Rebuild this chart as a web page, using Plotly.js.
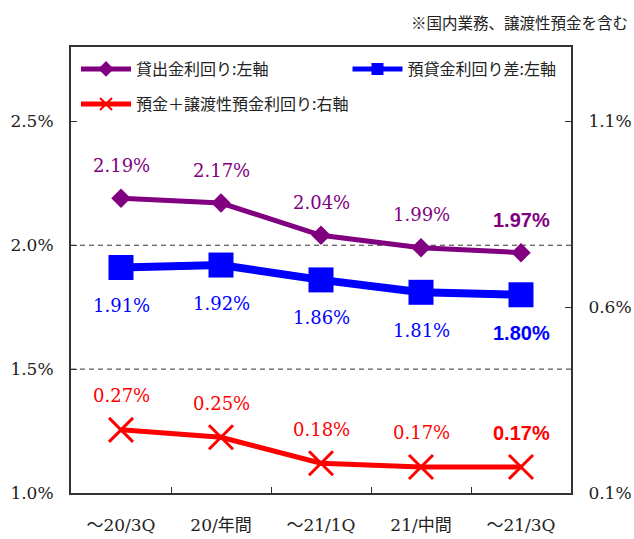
<!DOCTYPE html>
<html>
<head>
<meta charset="utf-8">
<script src="https://cdn.plot.ly/plotly-3.0.1.min.js"></script>
<style>
  html, body { margin: 0; padding: 0; background: #fff; }
  #chart { width: 634px; height: 539px; }
</style>
</head>
<body>
<div id="chart"></div>
<script>
// ---- data ----
const categories = ['～20/3Q', '20/年間', '～21/1Q', '21/中間', '～21/3Q'];
const loanYield = [2.19, 2.17, 2.04, 1.99, 1.97];      // 貸出金利回り (left axis)
const spread = [1.91, 1.92, 1.86, 1.81, 1.80];          // 預貸金利回り差 (left axis)
const depositYield = [0.27, 0.25, 0.18, 0.17, 0.17];    // 預金＋譲渡性預金利回り (right axis)
const seriesNames = ['貸出金利回り:左軸', '預貸金利回り差:左軸', '預金＋譲渡性預金利回り:右軸'];
const leftTicks = [1.0, 1.5, 2.0, 2.5];
const leftTickLabels = ['1.0%', '1.5%', '2.0%', '2.5%'];
const rightTicks = [0.1, 0.6, 1.1];
const rightTickLabels = ['0.1%', '0.6%', '1.1%'];
const gridLevels = [1.5, 2.0];
const note = '※国内業務、譲渡性預金を含む';

const PURPLE = '#800080', BLUE = '#0000ff', RED = '#ff0000';
const serif = 'DejaVu Serif, Noto Sans CJK JP, serif';
const cjk = 'Noto Sans CJK JP, sans-serif';

const traces = [
  {
    x: categories, y: loanYield, name: seriesNames[0], type: 'scatter', mode: 'lines+markers',
    line: { color: PURPLE, width: 5 },
    marker: { symbol: 'diamond', size: 15, color: PURPLE },
    yaxis: 'y', legend: 'legend'
  },
  {
    x: categories, y: spread, name: seriesNames[1], type: 'scatter', mode: 'lines+markers',
    line: { color: BLUE, width: 8 },
    marker: { symbol: 'square', size: 25, color: BLUE },
    yaxis: 'y', legend: 'legend3'
  },
  {
    x: categories, y: depositYield, name: seriesNames[2], type: 'scatter', mode: 'lines+markers',
    line: { color: RED, width: 5 },
    marker: { symbol: 'x-thin-open', size: 24, color: RED, line: { color: RED, width: 3 } },
    yaxis: 'y2', legend: 'legend2'
  }
];

function labels(values, yref, color, shift) {
  return values.map((v, i) => {
    const last = i === values.length - 1;
    return {
      x: categories[i], y: v, xref: 'x', yref: yref,
      text: v.toFixed(2) + '%', showarrow: false, yshift: shift,
      font: last ? { family: 'Liberation Sans, Arial, sans-serif', size: 20, color: color, weight: 'bold' }
                 : { family: serif, size: 18, color: color }
    };
  });
}

const annotations = []
  .concat(labels(loanYield, 'y', PURPLE, 33))
  .concat(labels(spread, 'y', BLUE, -38))
  .concat(labels(depositYield, 'y2', RED, 34))
  .concat([{
    x: 1.118, xref: 'paper', xanchor: 'right', y: 1, yref: 'paper', yanchor: 'middle', yshift: 25,
    text: note, showarrow: false, font: { family: cjk, size: 15.5, color: '#222' }
  }]);

const shapes = gridLevels.map(g => ({
  type: 'line', xref: 'paper', x0: 0, x1: 1, yref: 'y', y0: g, y1: g,
  line: { color: '#333', width: 1, dash: '5px,4px' }, layer: 'below'
}));

const legendBase = {
  orientation: 'h', xanchor: 'left', yanchor: 'middle', itemwidth: 50,
  bgcolor: 'rgba(255,255,255,0)', borderwidth: 0,
  font: { family: cjk, size: 16, color: '#222' }, itemsizing: 'constant'
};

const layout = {
  width: 634, height: 539,
  margin: { l: 71, r: 63, t: 47, b: 46 },
  paper_bgcolor: '#fff', plot_bgcolor: '#fff',
  font: { family: serif, size: 17, color: '#222' },
  xaxis: {
    type: 'category', range: [-0.5, 4.5], tickson: 'boundaries',
    ticks: 'inside', ticklen: 6, tickcolor: '#333', tickwidth: 1,
    showline: true, linecolor: '#333', linewidth: 2, mirror: true,
    showgrid: false, zeroline: false, fixedrange: true,
    ticklabelstandoff: 16,
    tickfont: { family: serif, size: 17, color: '#222' }
  },
  yaxis: {
    range: [1.0, 2.8], tickmode: 'array', tickvals: leftTicks, ticktext: leftTickLabels,
    ticks: 'inside', ticklen: 6, tickcolor: '#333',
    showline: true, linecolor: '#333', linewidth: 2,
    showgrid: false, zeroline: false, fixedrange: true,
    ticklabelstandoff: 12,
    tickfont: { family: serif, size: 17, color: '#222' }
  },
  yaxis2: {
    overlaying: 'y', side: 'right',
    range: [0.1, 1.3], tickmode: 'array', tickvals: rightTicks, ticktext: rightTickLabels,
    ticks: 'inside', ticklen: 6, tickcolor: '#333',
    showline: true, linecolor: '#333', linewidth: 2,
    showgrid: false, zeroline: false, fixedrange: true,
    ticklabelstandoff: 12,
    tickfont: { family: serif, size: 17, color: '#222' }
  },
  legend: Object.assign({}, legendBase, { x: 0.01, y: 0.9507 }),
  legend3: Object.assign({}, legendBase, { x: 0.553, y: 0.9507 }),
  legend2: Object.assign({}, legendBase, { x: 0.01, y: 0.872 }),
  showlegend: true,
  annotations: annotations,
  shapes: shapes
};

Plotly.newPlot('chart', traces, layout, { displayModeBar: false, staticPlot: true });
</script>
</body>
</html>
